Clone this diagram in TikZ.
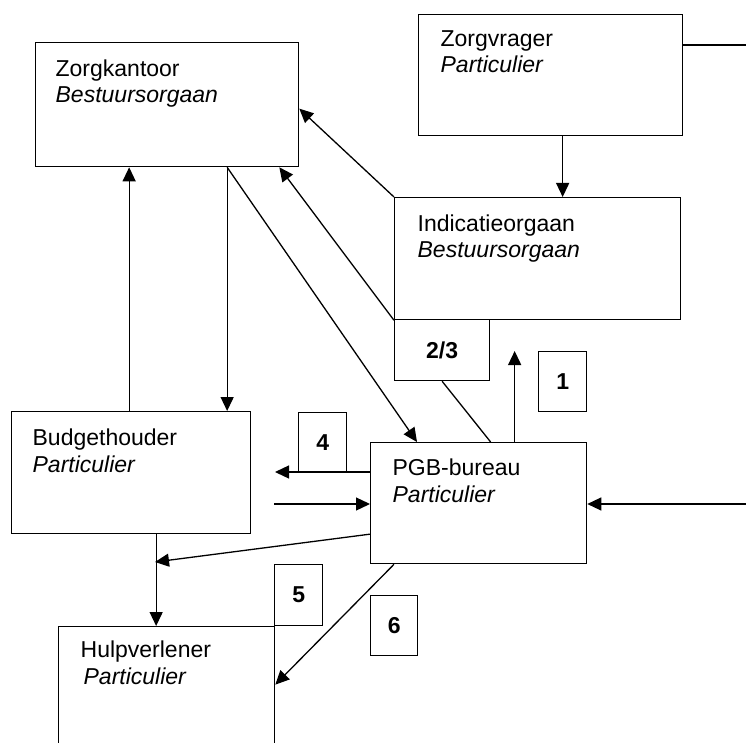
\documentclass[tikz,border=0pt]{standalone}
\usepackage{fontspec}
\setmainfont{Liberation Sans}
\usetikzlibrary{arrows.meta}

\newcommand{\diagfont}{\fontsize{23}{26}\selectfont}

\tikzset{
  box/.style={draw, anchor=north west, inner sep=0pt},
  numbox/.style={box, font=\diagfont\bfseries},
  boxname/.style={anchor=base west, inner sep=0pt, font=\diagfont},
  boxkind/.style={anchor=base west, inner sep=0pt, font=\diagfont\itshape},
  arr/.style={-{Triangle[length=14pt,width=13pt]}}
}

\begin{document}
\begin{tikzpicture}[x=1pt, y=-1pt, line width=1.3pt]
  \clip (0,0) rectangle (746,743);

  % Main boxes
  \node[box, minimum width=263pt, minimum height=124pt] (zk) at (35,42) {};
  \node[box, minimum width=264pt, minimum height=121pt] (zv) at (418,14) {};
  \node[box, minimum width=286pt, minimum height=122pt] (io) at (394,197) {};
  \node[box, minimum width=239pt, minimum height=122pt] (bh) at (11,411) {};
  \node[box, minimum width=216pt, minimum height=121pt] (pgb) at (370,442) {};
  \node[box, minimum width=216pt, minimum height=140pt] (hv) at (58,626) {};

  % Texts in the boxes
  \node[boxname] (zkname) at ([shift={(20,35)}]zk.north west) {Zorgkantoor};
  \node[boxkind] at ([yshift=-26pt]zkname.base west) {Bestuursorgaan};
  \node[boxname] (zvname) at ([shift={(22,33)}]zv.north west) {Zorgvrager};
  \node[boxkind] at ([yshift=-26pt]zvname.base west) {Particulier};
  \node[boxname] (ioname) at ([shift={(23,35)}]io.north west) {Indicatieorgaan};
  \node[boxkind] at ([yshift=-26pt]ioname.base west) {Bestuursorgaan};
  \node[boxname] (bhname) at ([shift={(21,34)}]bh.north west) {Budgethouder};
  \node[boxkind] at ([yshift=-27pt]bhname.base west) {Particulier};
  \node[boxname] (pgbname) at ([shift={(22,33)}]pgb.north west) {PGB-bureau};
  \node[boxkind] at ([yshift=-27pt]pgbname.base west) {Particulier};
  \node[boxname] (hvname) at ([shift={(22,31)}]hv.north west) {Hulpverlener};
  \node[boxkind] at ([shift={(3,-27pt)}]hvname.base west) {Particulier};

  % Numbered boxes
  \node[numbox, minimum width=95pt, minimum height=61pt] (n23) at (394,319) {2/3\hspace{20pt}};
  \node[numbox, minimum width=48pt, minimum height=60pt] (n1) at (538,351) {1};
  \node[numbox, minimum width=48pt, minimum height=60pt] (n4) at (298,412) {4};
  \node[numbox, minimum width=48pt, minimum height=61pt] (n5) at (274,564) {5};
  \node[numbox, minimum width=47pt, minimum height=60pt] (n6) at (370,595) {6};

  % Free ends
  \coordinate (zvout) at (746,45);
  \coordinate (out4) at (275,472);
  \coordinate (inL) at (274,504);
  \coordinate (inR) at (746,504);
  \coordinate (joinbh) at (155,562);

  % Connectors
  \draw (zvout -| zv.east) -- (zvout);
  \draw[arr] ([xshift=12pt]zv.south) -- ([xshift=12pt]zv.south |- io.north);
  \draw[arr] (io.north west) -- ([yshift=-4pt]zk.east);
  \draw[arr] (io.south west) -- ([xshift=-20pt]zk.south east);
  \draw[arr] ([xshift=60pt]zk.south) -- ([xshift=47pt]pgb.north west);
  \draw[arr] ([xshift=60pt]zk.south) -- ([xshift=60pt]zk.south |- bh.north);
  \draw[arr] ([xshift=-2pt]bh.north) -- ([xshift=-2pt]bh.north |- zk.south);
  \draw (n23.south) -- ([xshift=12pt]pgb.north);
  \draw[arr] ([xshift=36pt]pgb.north) -- ([xshift=36pt]pgb.north |- n1.north);
  \draw[arr] (out4 -| pgb.west) -- (out4);
  \draw[arr] (inL) -- (inL -| pgb.west);
  \draw[arr] (inR) -- (inR -| pgb.east);
  \draw[arr] ([yshift=-31pt]pgb.west) -- (joinbh);
  \draw[arr] ([xshift=25pt]bh.south) -- ([xshift=25pt]bh.south |- hv.north);
  \draw[arr] ([xshift=24pt]pgb.south west) -- ([yshift=12pt]hv.east);
\end{tikzpicture}
\end{document}
